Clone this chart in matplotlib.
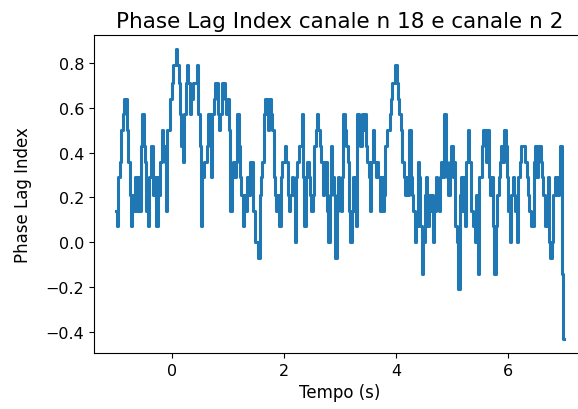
import numpy as np
import matplotlib
matplotlib.use("Agg")
import matplotlib.pyplot as plt

# Phase Lag Index between channel 18 and channel 2, sampled every 25 ms
t_start = -1.0
t_step = 0.025
pli = [
    0.14, 0.07, 0.29, 0.36, 0.50, 0.57, 0.64, 0.64, 0.50, 0.36,
    0.21, 0.07, 0.21, 0.14, 0.29, 0.14, 0.29, 0.14, 0.43, 0.57,
    0.43, 0.36, 0.14, 0.07, 0.29, 0.43, 0.43, 0.21, 0.29, 0.07,
    0.29, 0.21, 0.36, 0.50, 0.43, 0.36, 0.14, 0.50, 0.50, 0.64,
    0.71, 0.79, 0.79, 0.86, 0.79, 0.71, 0.57, 0.43, 0.36, 0.57,
    0.71, 0.79, 0.71, 0.57, 0.64, 0.71, 0.71, 0.71, 0.79, 0.57,
    0.43, 0.07, 0.29, 0.36, 0.36, 0.43, 0.57, 0.57, 0.29, 0.57,
    0.64, 0.71, 0.71, 0.57, 0.50, 0.57, 0.71, 0.71, 0.64, 0.57,
    0.64, 0.50, 0.14, 0.29, 0.36, 0.29, 0.36, 0.57, 0.43, 0.29,
    0.21, 0.07, 0.21, 0.14, 0.29, 0.21, 0.36, 0.36, 0.14, 0.14,
    0.00, 0.00, -0.07, 0.21, 0.29, 0.36, 0.57, 0.64, 0.57, 0.50,
    0.64, 0.57, 0.50, 0.29, 0.21, 0.14, 0.21, 0.07, 0.29, 0.36,
    0.36, 0.43, 0.36, 0.21, 0.14, 0.21, 0.29, 0.21, 0.00, 0.29,
    0.36, 0.43, 0.43, 0.57, 0.29, 0.07, 0.29, 0.36, 0.29, 0.21,
    0.14, 0.21, 0.43, 0.50, 0.57, 0.50, 0.43, 0.36, 0.21, 0.29,
    0.36, 0.14, 0.00, 0.21, 0.43, 0.29, 0.21, -0.07, 0.14, 0.29,
    0.21, 0.14, 0.29, 0.57, 0.50, 0.43, 0.36, 0.14, 0.00, 0.14,
    0.29, 0.14, 0.07, 0.57, 0.50, 0.43, 0.57, 0.50, 0.57, 0.43,
    0.36, 0.29, 0.14, 0.36, 0.50, 0.36, 0.29, 0.36, 0.29, 0.14,
    0.29, 0.14, 0.21, 0.43, 0.50, 0.50, 0.57, 0.64, 0.71, 0.71,
    0.79, 0.71, 0.64, 0.57, 0.50, 0.36, 0.29, 0.21, 0.29, 0.21,
    0.50, 0.29, 0.21, 0.14, 0.00, 0.07, 0.36, 0.29, 0.07, -0.14,
    0.00, 0.21, 0.29, 0.07, 0.21, 0.14, 0.21, 0.00, 0.14, 0.29,
    0.21, 0.14, 0.29, 0.36, 0.29, 0.57, 0.36, 0.29, 0.21, 0.36,
    0.43, 0.29, 0.36, 0.07, 0.00, -0.21, 0.21, 0.29, 0.14, 0.29,
    0.07, 0.36, 0.50, 0.36, 0.14, 0.14, 0.07, 0.00, 0.21, -0.14,
    0.29, 0.29, 0.43, 0.50, 0.50, 0.36, 0.50, 0.29, 0.21, 0.29,
    0.07, -0.14, 0.07, 0.21, 0.29, 0.36, 0.43, 0.36, 0.50, 0.43,
    0.29, 0.14, 0.00, 0.21, 0.29, 0.21, 0.14, 0.00, 0.29, 0.36,
    0.43, 0.43, 0.43, 0.36, 0.29, 0.21, 0.14, 0.07, 0.07, 0.36,
    0.43, 0.29, 0.43, 0.43, 0.36, 0.29, 0.21, 0.07, 0.07, 0.29,
    0.00, -0.07, 0.00, 0.21, 0.29, 0.29, 0.21, 0.29, 0.43, -0.14,
    -0.43,
]
tempo = t_start + t_step * np.arange(len(pli))

title = "Phase Lag Index canale n 18 e canale n 2"
x_label = "Tempo (s)"
y_label = "Phase Lag Index"
x_ticks = [0, 2, 4, 6]

fig = plt.figure(figsize=(5.78, 4.10), dpi=100)
ax = fig.add_axes([94 / 578, 56 / 410, 492 / 578, 318 / 410])
ax.plot(tempo, pli, color="#1f77b4", linewidth=2.2, drawstyle="steps-mid")
ax.set_xticks(x_ticks)
ax.spines["right"].set_visible(False)
ax.set_title(title, fontsize=15.5)
ax.set_xlabel(x_label, fontsize=12)
ax.set_ylabel(y_label, fontsize=12)
ax.yaxis.set_label_coords(-0.125, 0.5)
ax.tick_params(labelsize=11.5)
fig.savefig("out.png", dpi=100)
